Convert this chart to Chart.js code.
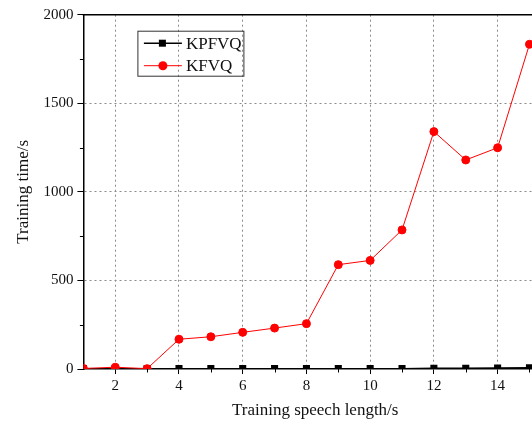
<!DOCTYPE html>
<html>
<head>
<meta charset="utf-8">
<script src="https://cdn.jsdelivr.net/npm/chart.js@4.4.0/dist/chart.umd.min.js"></script>
<style>
  html, body { margin: 0; padding: 0; background: #fff; overflow: hidden; }
</style>
</head>
<body>
<canvas id="trainChart" width="552" height="421"></canvas>
<script>
// data
const speechLength = [1, 2, 3, 4, 5, 6, 7, 8, 9, 10, 11, 12, 13, 14, 15];
const kpfvqTime = [2, 2, 2, 2, 2, 2, 2, 2, 2, 2, 2, 4, 4, 5, 7];
const kfvqTime = [3, 10, 2, 168, 182, 207, 231, 256, 589, 613, 785, 1340, 1180, 1249, 1833];
const xLabels = [2, 4, 6, 8, 10, 12, 14];
const yMinorTicks = [250, 750, 1250, 1750];
const xMinorTicks = [3, 5, 7, 9, 11, 13, 15];

const serif = '"Liberation Serif", "Times New Roman", Times, serif';
Chart.defaults.font.family = serif;
Chart.defaults.color = '#111';

const seriesInfo = [
  { label: 'KPFVQ', color: '#000', style: 'rect' },
  { label: 'KFVQ', color: '#ff0000', style: 'circle' }
];

// top frame line, minor ticks and the boxed legend
const framePlugin = {
  id: 'framePlugin',
  afterDraw(chart) {
    const { ctx, chartArea } = chart;
    const x = chart.scales.x, y = chart.scales.y;
    ctx.save();
    ctx.strokeStyle = '#000';
    ctx.lineWidth = 1.5;
    ctx.beginPath();
    ctx.moveTo(chartArea.left - 0.75, chartArea.top);
    ctx.lineTo(chartArea.right, chartArea.top);
    ctx.stroke();

    ctx.lineWidth = 1;
    ctx.beginPath();
    yMinorTicks.forEach(v => {
      const py = Math.round(y.getPixelForValue(v)) + 0.5;
      ctx.moveTo(chartArea.left - 3.5, py);
      ctx.lineTo(chartArea.left, py);
    });
    xMinorTicks.forEach(v => {
      const px = Math.round(x.getPixelForValue(v)) + 0.5;
      ctx.moveTo(px, chartArea.bottom);
      ctx.lineTo(px, chartArea.bottom + 3.5);
    });
    ctx.stroke();

    // legend
    const bx = chartArea.left + 54.5, by = chartArea.top + 16.5;
    ctx.lineWidth = 1;
    ctx.strokeStyle = '#333';
    ctx.strokeRect(bx, by, 106, 45);
    seriesInfo.forEach((s, i) => {
      const cy = by + 12 + i * 22.5;
      ctx.strokeStyle = s.color;
      ctx.lineWidth = s.style === 'rect' ? 1.5 : 1;
      ctx.beginPath();
      ctx.moveTo(bx + 6, cy);
      ctx.lineTo(bx + 44, cy);
      ctx.stroke();
      ctx.fillStyle = s.color;
      if (s.style === 'rect') {
        ctx.fillRect(bx + 21, cy - 3.5, 7, 7);
      } else {
        ctx.beginPath();
        ctx.arc(bx + 25, cy, 4.5, 0, Math.PI * 2);
        ctx.fill();
      }
      ctx.fillStyle = '#111';
      ctx.font = '17px ' + serif;
      ctx.textBaseline = 'middle';
      ctx.fillText(s.label, bx + 48, cy + 1);
    });
    ctx.restore();
  }
};

const ctx = document.getElementById('trainChart').getContext('2d');
new Chart(ctx, {
  type: 'line',
  data: {
    labels: speechLength,
    datasets: [
      {
        label: 'KPFVQ',
        data: speechLength.map((v, i) => ({ x: v, y: kpfvqTime[i] })),
        borderColor: '#000',
        backgroundColor: '#000',
        borderWidth: 1.5,
        pointStyle: 'rect',
        pointRadius: 5,
        pointBorderWidth: 0,
        order: 1
      },
      {
        label: 'KFVQ',
        data: speechLength.map((v, i) => ({ x: v, y: kfvqTime[i] })),
        borderColor: '#ff0000',
        backgroundColor: '#ff0000',
        borderWidth: 1,
        pointStyle: 'circle',
        pointRadius: 4,
        pointBorderWidth: 1,
        order: 0
      }
    ]
  },
  options: {
    responsive: false,
    animation: false,
    layout: { padding: { top: 14.7, right: 1.5, left: 0, bottom: 0 } },
    plugins: {
      legend: { display: false },
      tooltip: { enabled: false }
    },
    scales: {
      x: {
        type: 'linear',
        min: 1,
        max: 15.55,
        afterFit: s => { s.height = 52; },
        ticks: {
          stepSize: 1,
          autoSkip: false,
          maxRotation: 0,
          padding: 3,
          font: { size: 15 },
          callback: v => xLabels.includes(v) ? String(v) : ''
        },
        grid: {
          color: c => (c.tick && xLabels.includes(c.tick.value)) ? '#8a8a8a' : 'transparent',
          tickColor: c => (c.tick && xLabels.includes(c.tick.value)) ? '#000' : 'transparent',
          tickLength: 5,
          lineWidth: 1
        },
        border: { display: true, color: '#000', width: 1.5, dash: [2, 3] },
        title: {
          display: true,
          text: 'Training speech length/s',
          font: { size: 17 },
          color: '#111',
          padding: { top: 1, bottom: 0 }
        }
      },
      y: {
        min: 0,
        max: 2000,
        afterFit: s => { s.width = 83.4; },
        ticks: {
          stepSize: 500,
          padding: 4,
          font: { size: 15 },
          callback: v => String(v)
        },
        grid: {
          color: c => (c.tick && c.tick.value > 0 && c.tick.value < 2000) ? '#8a8a8a' : 'transparent',
          tickColor: '#000',
          tickLength: 6,
          lineWidth: 1
        },
        border: { display: true, color: '#000', width: 1.5, dash: [2, 3] },
        title: {
          display: true,
          text: 'Training time/s',
          font: { size: 17 },
          color: '#111',
          padding: { top: 13, bottom: 0 }
        }
      }
    }
  },
  plugins: [framePlugin]
});
</script>
</body>
</html>
